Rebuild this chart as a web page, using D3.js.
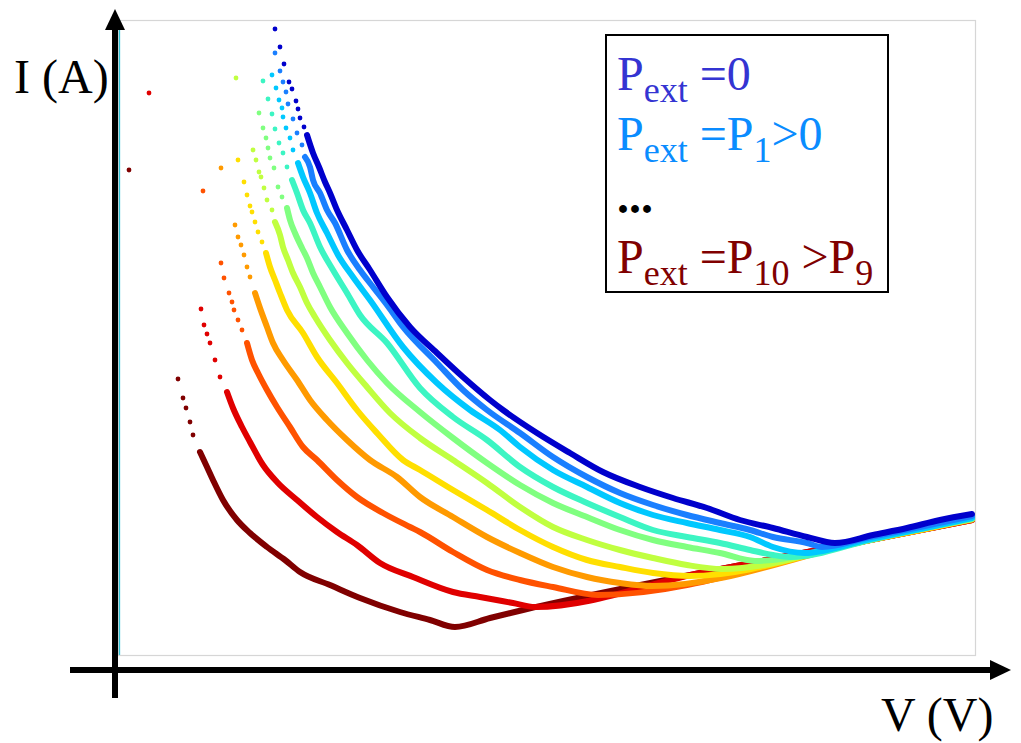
<!DOCTYPE html>
<html>
<head>
<meta charset="utf-8">
<title>I-V curves vs external power</title>
<script src="https://cdn.jsdelivr.net/npm/d3@7"></script>
<style>
  body { margin: 0; background: #fff; }
  text { font-family: "Liberation Serif", "DejaVu Serif", serif; }
</style>
</head>
<body>
<div id="chart"></div>
<script>
// Values. V and I in arbitrary units (no ticks on the original).
// "Dots" = the sparse single points at the top of each curve, "trace" = the dense part.
var p0Dots = [[1.57,6.26],[1.62,6.08],[1.66,5.91],[1.71,5.73],[1.74,5.66],[1.78,5.54],[1.80,5.46],[1.82,5.37],[1.86,5.28]];
var p0Trace = [[1.89,5.20],[1.95,5.02],[2.01,4.88],[2.07,4.73],[2.12,4.62],[2.19,4.45],[2.29,4.25],[2.39,4.05],[2.52,3.85],[2.69,3.58],[2.92,3.28],[3.19,3.02],[3.45,2.78],[3.72,2.55],[3.85,2.45],[4.19,2.22],[4.52,2.02],[4.85,1.83],[5.22,1.68],[5.55,1.57],[5.89,1.47],[6.22,1.35],[6.55,1.27],[6.89,1.18],[7.17,1.12],[7.55,1.20],[7.89,1.27],[8.22,1.35],[8.54,1.41]];

var p1Dots = [[1.57,6.02],[1.62,5.84],[1.65,5.73],[1.68,5.63],[1.70,5.51],[1.75,5.36],[1.79,5.22],[1.84,5.10]];
var p1Trace = [[1.87,4.98],[1.92,4.88],[1.95,4.75],[2.02,4.62],[2.09,4.45],[2.17,4.32],[2.29,4.05],[2.42,3.85],[2.55,3.68],[2.69,3.50],[2.85,3.28],[3.19,2.92],[3.45,2.65],[3.69,2.45],[4.02,2.22],[4.35,1.98],[4.69,1.78],[5.02,1.62],[5.35,1.50],[5.69,1.40],[6.02,1.32],[6.32,1.25],[6.55,1.18],[6.89,1.12],[7.04,1.08],[7.52,1.18],[8.02,1.28],[8.54,1.39]];

var p2Dots = [[1.54,5.80],[1.58,5.67],[1.61,5.55],[1.64,5.47],[1.65,5.38],[1.68,5.27],[1.72,5.17],[1.75,5.05]];
var p2Trace = [[1.80,4.92],[1.85,4.78],[1.92,4.62],[1.99,4.42],[2.09,4.22],[2.20,4.00],[2.35,3.78],[2.52,3.55],[2.85,3.08],[3.19,2.72],[3.52,2.45],[3.82,2.25],[4.02,2.08],[4.35,1.85],[4.69,1.68],[5.02,1.52],[5.35,1.40],[5.69,1.32],[6.02,1.25],[6.32,1.18],[6.55,1.08],[6.87,1.02],[7.52,1.16],[8.02,1.26],[8.54,1.37]];

var p3Dots = [[1.45,5.74],[1.50,5.56],[1.54,5.41],[1.57,5.26],[1.61,5.12],[1.65,5.02],[1.69,4.88]];
var p3Trace = [[1.74,4.75],[1.79,4.62],[1.85,4.45],[1.92,4.32],[2.02,4.08],[2.15,3.85],[2.29,3.62],[2.42,3.40],[2.69,3.12],[3.02,2.67],[3.35,2.38],[3.69,2.15],[4.02,1.88],[4.35,1.68],[4.69,1.52],[5.02,1.38],[5.35,1.25],[5.69,1.18],[6.02,1.12],[6.32,1.05],[6.55,1.00],[6.72,0.98],[7.52,1.15],[8.02,1.26],[8.54,1.37]];

var p4Dots = [[1.41,5.42],[1.45,5.27],[1.48,5.17],[1.50,5.07],[1.52,4.97],[1.56,4.87],[1.60,4.68],[1.64,4.58]];
var p4Trace = [[1.69,4.47],[1.72,4.35],[1.77,4.22],[1.84,4.07],[1.89,3.97],[1.95,3.82],[2.02,3.68],[2.12,3.48],[2.29,3.22],[2.49,2.95],[2.69,2.72],[3.02,2.43],[3.35,2.17],[3.69,1.92],[4.02,1.70],[4.35,1.52],[4.69,1.38],[5.02,1.25],[5.35,1.15],[5.69,1.08],[6.02,1.02],[6.37,0.94],[7.52,1.16],[8.02,1.26],[8.54,1.36]];

var p5Dots = [[1.18,5.77],[1.35,5.05],[1.38,4.95],[1.41,4.83],[1.43,4.78],[1.46,4.67],[1.49,4.55],[1.54,4.45]];
var p5Trace = [[1.57,4.33],[1.62,4.20],[1.65,4.08],[1.70,3.95],[1.75,3.82],[1.82,3.68],[1.89,3.52],[1.97,3.38],[2.12,3.15],[2.29,2.92],[2.49,2.68],[2.72,2.42],[3.02,2.17],[3.35,1.95],[3.69,1.72],[4.02,1.48],[4.35,1.28],[4.69,1.15],[5.02,1.05],[5.35,0.97],[5.69,0.90],[6.04,0.86],[7.52,1.16],[8.02,1.26],[8.54,1.36]];

var p6Dots = [[1.20,4.95],[1.26,4.73],[1.29,4.60],[1.32,4.49],[1.34,4.43],[1.37,4.33],[1.40,4.23],[1.44,4.13]];
var p6Trace = [[1.48,4.02],[1.52,3.88],[1.57,3.75],[1.62,3.62],[1.69,3.45],[1.85,3.22],[1.99,2.98],[2.19,2.72],[2.39,2.45],[2.59,2.22],[2.85,1.95],[3.02,1.85],[3.35,1.65],[3.69,1.45],[4.02,1.25],[4.35,1.08],[4.69,0.95],[5.02,0.88],[5.35,0.82],[5.72,0.79],[7.52,1.15],[8.02,1.25],[8.54,1.36]];

var p7Dots = [[1.03,4.87],[1.17,4.30],[1.20,4.18],[1.23,4.10],[1.26,4.00],[1.29,3.88],[1.32,3.78]];
var p7Trace = [[1.37,3.62],[1.42,3.47],[1.49,3.28],[1.55,3.12],[1.65,2.95],[1.79,2.75],[1.92,2.55],[2.09,2.35],[2.29,2.15],[2.52,1.95],[2.79,1.78],[3.02,1.58],[3.35,1.38],[3.69,1.18],[4.02,1.02],[4.35,0.88],[4.69,0.78],[5.02,0.72],[5.34,0.69],[7.52,1.15],[8.02,1.25],[8.54,1.36]];

var p8Dots = [[0.85,4.64],[1.03,3.92],[1.06,3.77],[1.11,3.62],[1.14,3.53],[1.16,3.45],[1.20,3.35],[1.24,3.25]];
var p8Trace = [[1.29,3.12],[1.34,2.95],[1.40,2.82],[1.49,2.65],[1.59,2.48],[1.72,2.28],[1.85,2.08],[1.99,1.95],[2.19,1.75],[2.39,1.58],[2.65,1.42],[2.92,1.28],[3.02,1.23],[3.35,1.03],[3.69,0.85],[4.02,0.75],[4.35,0.68],[4.80,0.60],[7.52,1.15],[8.02,1.25],[8.54,1.35]];

var p9Dots = [[0.31,5.62],[0.83,3.46],[0.86,3.30],[0.89,3.21],[0.92,3.12],[0.97,2.95],[1.02,2.78]];
var p9Trace = [[1.09,2.63],[1.15,2.47],[1.24,2.28],[1.32,2.13],[1.45,1.90],[1.59,1.73],[1.79,1.55],[1.99,1.38],[2.19,1.23],[2.39,1.10],[2.62,0.92],[2.95,0.78],[3.35,0.63],[3.62,0.58],[3.95,0.52],[4.17,0.48],[5.82,0.82],[7.52,1.15],[8.54,1.35]];

var p10Dots = [[0.11,4.85],[0.60,2.76],[0.65,2.57],[0.68,2.47],[0.72,2.33],[0.75,2.20]];
var p10Trace = [[0.82,2.03],[0.89,1.88],[0.95,1.75],[1.05,1.55],[1.19,1.35],[1.32,1.22],[1.49,1.08],[1.67,0.95],[1.82,0.83],[2.12,0.70],[2.42,0.57],[2.82,0.43],[3.12,0.35],[3.37,0.28],[3.72,0.37],[4.05,0.45],[5.82,0.82],[7.52,1.15],[8.54,1.35]];

// points sitting on V = 0 (all curves) along the whole current range
var zeroBiasI = [0, 6.35];

var seriesNames = ["P0","P1","P2","P3","P4","P5","P6","P7","P8","P9","P10"];
var allDots = [p0Dots,p1Dots,p2Dots,p3Dots,p4Dots,p5Dots,p6Dots,p7Dots,p8Dots,p9Dots,p10Dots];
var allTraces = [p0Trace,p1Trace,p2Trace,p3Trace,p4Trace,p5Trace,p6Trace,p7Trace,p8Trace,p9Trace,p10Trace];

// jet-like colours, P0 (blue) -> P10 (dark red)
var colors = ["#0000cc","#1a7fff","#00c8ff","#3cf5c3","#80ff80","#c0ff40","#ffdf00","#ff9a00","#ff5200","#e00000","#800000"];

var w = 1021, h = 743;

var svg = d3.select("#chart").append("svg")
    .attr("width", w)
    .attr("height", h);

var x = d3.scaleLinear().domain([0, 8.57]).range([118, 975]);
var y = d3.scaleLinear().domain([0, 6.35]).range([655, 20]);

// light plot frame
svg.append("rect")
    .attr("x", x(0) + 0.5).attr("y", y(6.35) + 0.5)
    .attr("width", x(8.57) - x(0)).attr("height", y(0) - y(6.35))
    .attr("fill", "none")
    .attr("stroke", "#d6d6d6")
    .attr("stroke-width", 1.2);

var line = d3.line()
    .x(function(d) { return x(d[0]); })
    .y(function(d) { return y(d[1]); })
    .curve(d3.curveMonotoneX);

// draw dark red first so the blue curve ends up on top
for (var i = seriesNames.length - 1; i >= 0; i--) {
    var g = svg.append("g").attr("class", "series " + seriesNames[i]);
    g.append("path")
        .datum(allTraces[i])
        .attr("d", line)
        .attr("fill", "none")
        .attr("stroke", colors[i])
        .attr("stroke-width", 6)
        .attr("stroke-linejoin", "round")
        .attr("stroke-linecap", "round");
    g.selectAll("circle")
        .data(allDots[i])
      .enter().append("circle")
        .attr("cx", function(d) { return x(d[0]); })
        .attr("cy", function(d) { return y(d[1]); })
        .attr("r", 2.4)
        .attr("fill", colors[i]);
}

// V = 0 points hugging the vertical axis
svg.append("line")
    .attr("x1", x(0) + 1.5).attr("x2", x(0) + 1.5)
    .attr("y1", y(zeroBiasI[0])).attr("y2", y(zeroBiasI[1]))
    .attr("stroke", "#2fc4d8")
    .attr("stroke-width", 1.3);

// thick arrow axes
var ax = 115, ay = 670;
svg.append("line")
    .attr("x1", ax).attr("x2", ax).attr("y1", 698).attr("y2", 26)
    .attr("stroke", "#000").attr("stroke-width", 6);
svg.append("path")
    .attr("d", "M" + (ax - 10) + ",30 L" + ax + ",9 L" + (ax + 10) + ",30 Z")
    .attr("fill", "#000");
svg.append("line")
    .attr("x1", 70).attr("x2", 994).attr("y1", ay).attr("y2", ay)
    .attr("stroke", "#000").attr("stroke-width", 6);
svg.append("path")
    .attr("d", "M990," + (ay - 10) + " L1011," + ay + " L990," + (ay + 10) + " Z")
    .attr("fill", "#000");

// axis labels
svg.append("text")
    .attr("x", 14).attr("y", 93)
    .attr("font-size", 48)
    .text("I (A)");
svg.append("text")
    .attr("x", 881).attr("y", 731)
    .attr("font-size", 48)
    .text("V (V)");

// legend
svg.append("rect")
    .attr("x", 606).attr("y", 35)
    .attr("width", 282).attr("height", 257)
    .attr("fill", "#fff")
    .attr("stroke", "#000")
    .attr("stroke-width", 2);

var legendLines = [
    { color: "#3434d2", y: 90, parts: [["P",0],["ext",1],[" =0",0]] },
    { color: "#0a8cff", y: 150, parts: [["P",0],["ext",1],[" =P",0],["1",1],[">0",0]] },
    { color: "#000000", y: 213, parts: [["...",0]], bold: true },
    { color: "#800000", y: 273, parts: [["P",0],["ext",1],[" =P",0],["10",1],[" >P",0],["9",1]] }
];

legendLines.forEach(function(l) {
    var t = svg.append("text")
        .attr("x", 617).attr("y", l.y)
        .attr("font-size", 48)
        .attr("font-weight", l.bold ? "bold" : "normal")
        .attr("fill", l.color)
        .attr("xml:space", "preserve");
    var shifted = false;
    l.parts.forEach(function(p) {
        var s = t.append("tspan").text(p[0]);
        if (p[1] && !shifted) { s.attr("dy", 12).attr("font-size", 36); shifted = true; }
        else if (p[1]) { s.attr("font-size", 36); }
        else if (shifted) { s.attr("dy", -12); shifted = false; }
    });
});
</script>
</body>
</html>
